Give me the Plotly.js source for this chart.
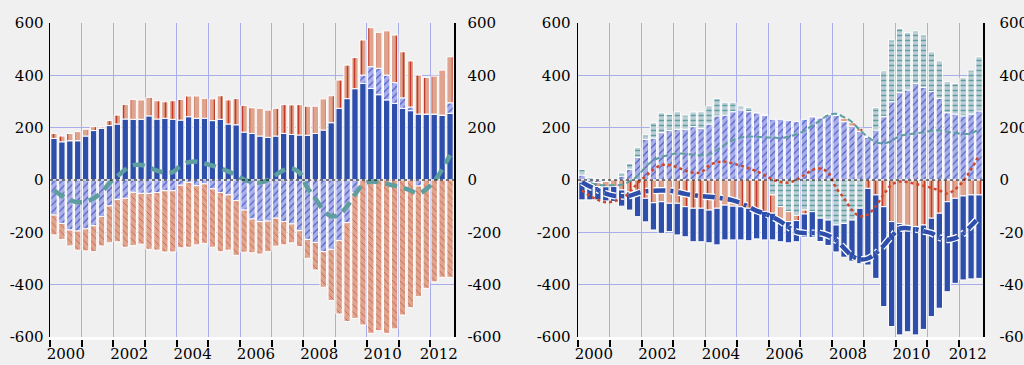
<!DOCTYPE html>
<html>
<head>
<meta charset="utf-8">
<script src="https://cdn.plot.ly/plotly-3.0.1.min.js"></script>
<style>html,body{margin:0;padding:0;background:#f0f0f0;}#chart{width:1024px;height:365px;}</style>
</head>
<body>
<div id="chart"></div>
<script>
// ---------- categories (quarters 2000Q1 .. 2012Q3) ----------
const quarters = [
 '2000Q1','2000Q2','2000Q3','2000Q4','2001Q1','2001Q2','2001Q3','2001Q4',
 '2002Q1','2002Q2','2002Q3','2002Q4','2003Q1','2003Q2','2003Q3','2003Q4',
 '2004Q1','2004Q2','2004Q3','2004Q4','2005Q1','2005Q2','2005Q3','2005Q4',
 '2006Q1','2006Q2','2006Q3','2006Q4','2007Q1','2007Q2','2007Q3','2007Q4',
 '2008Q1','2008Q2','2008Q3','2008Q4','2009Q1','2009Q2','2009Q3','2009Q4',
 '2010Q1','2010Q2','2010Q3','2010Q4','2011Q1','2011Q2','2011Q3','2011Q4',
 '2012Q1','2012Q2','2012Q3'];

// ---------- left panel ----------
const leftBlue = [159,146,150,150,168,189,197,208,214,233, 232,232,245,233,236,232,229,242,236,236,
 227,232,214,211,183,178,168,163,168,178, 174,172,171,178,191,219,274,311,349,369,
 350,326,306,293,274,265,252,252,252,248,255];
const leftPurple = [-134,-166,-191,-195,-187,-175,-140,-99,-74,-70, -47,-51,-51,-48,-41,-41,-20,-9,-22,-15,
 -34,-48,-57,-79,-115,-149,-159,-157,-146,-159, -168,-194,-227,-239,-274,-265,-232,-163,-48,32,
 83,101,95,79,40,14,-23,0,0,0,40];
const leftSalmonPos = [19,22,28,35,26,15,5,19,34,56, 76,74,71,70,63,71,79,79,85,76,
 83,90,92,100,102,98,106,104,106,110, 113,116,111,104,119,103,108,128,119,134,
 149,137,169,182,176,176,149,140,145,172,176];
const leftSalmonNeg = [-76,-61,-61,-73,-84,-99,-112,-141,-162,-187, -204,-194,-214,-220,-234,-234,-239,-248,-226,-227,
 -223,-226,-211,-209,-161,-129,-124,-117,-107,-89, -72,-61,-72,-105,-136,-196,-280,-378,-481,-554,
 -586,-576,-586,-569,-516,-488,-423,-414,-389,-372,-372];
const netTotal = [-40,-60,-76,-85,-82,-70,-48,-12,14,40, 57,57,48,36,28,30,55,68,70,63,
 55,45,33,18,2,-8,-10,0,19,38, 44,28,-30,-70,-115,-138,-132,-100,-55,-18,
 -6,-8,-15,-22,-30,-40,-52,-35,-5,40,95];

// ---------- right panel ----------
const rightPurple = [19,-12,-10,-6,0,15,41,87,155,160, 181,189,194,194,204,197,214,245,248,261,
 268,261,257,248,232,232,227,223,232,242, 238,251,248,223,206,185,164,191,242,299,
 334,344,369,354,338,312,257,252,245,252,264];
const rightTeal = [22,10,4,0,0,13,23,38,17,59, 76,62,67,54,56,64,69,67,49,36,
 15,17,0,0,-57,-102,-121,-135,-115,-121, -146,-153,-172,-166,-153,-108,0,86,175,236,
 246,220,201,200,152,143,119,117,146,168,207];
const rightSalmon = [-8,-10,-15,-20,-25,-38,-45,-51,-70,-87, -83,-89,-89,-102,-108,-108,-115,-108,-96,-100,
 -102,-108,-118,-120,-70,-57,-38,-20,-15,0, 0,0,0,13,13,13,-32,-57,-102,-159,
 -166,-178,-178,-172,-146,-127,-83,-70,-61,-57,-57];
const rightBlue = [-68,-54,-51,-54,-57,-62,-70,-89,-90,-104, -121,-108,-121,-115,-128,-128,-125,-140,-133,-129,
 -127,-124,-107,-109,-102,-77,-81,-81,-90,-99, -89,-97,-103,-129,-157,-212,-293,-319,-382,-401,
 -426,-402,-414,-399,-376,-363,-344,-325,-321,-321,-319];
const tealLine = [-6,-12,-18,-20,-20,-18,-5,15,50,75, 88,96,101,100,96,95,98,115,135,152,
 162,166,165,163,162,160,165,175,188,208, 228,248,253,240,222,190,165,145,140,150,
 168,174,178,182,188,190,184,180,176,178,195];
const blueLine = [-8,-25,-38,-52,-60,-62,-60,-50,-43,-41, -40,-41,-46,-53,-58,-62,-64,-67,-72,-78,
 -88,-103,-118,-128,-142,-158,-180,-198,-203,-203, -203,-212,-230,-260,-290,-303,-300,-280,-250,-215,
 -186,-184,-188,-196,-203,-220,-228,-222,-205,-175,-142];

// ---------- tick labels ----------
const yearLabels = ['2000','2002','2004','2006','2008','2010','2012'];
const yTickVals = [-600,-400,-200,0,200,400,600];
const yTickText = ['-600','-400','-200','0','200','400','600'];

// ---------- helpers ----------
const X_MIN = 2000, X_MAX = 2012.75;
const xq = quarters.map(q => +q.slice(0,4) + (+q.slice(5) - 0.5) / 4);
const labelPos = yearLabels.map(y => Math.min(+y + 0.5, X_MAX - 0.48));

const BLUE = '#2d4fab', PURPLE_BG = '#a9afe8', PURPLE_FG = '#4f5ec6',
      SALMON_BG = '#dfa48e', RED = '#c43a28', TEAL_BG = '#bccfd6', TEAL = '#5f9ea0',
      GRID = '#a9ade9';
const outline = {color: 'white', width: 1};

function bar(y, xa, ya, color, pattern) {
  const m = {color: color, line: outline};
  if (pattern) m.pattern = pattern;
  return {type: 'bar', x: xq, y: y, xaxis: xa, yaxis: ya, marker: m, hoverinfo: 'skip'};
}
const purplePat = {shape: '/', fgcolor: PURPLE_FG, bgcolor: PURPLE_BG, size: 5, solidity: 0.22};
const salmonBar = {shape: '|', fgcolor: RED, bgcolor: SALMON_BG, size: 7, solidity: 0.22};
const salmonHatch = {shape: '\\', fgcolor: '#c9543e', bgcolor: SALMON_BG, size: 5, solidity: 0.15};
const tealPat = {shape: '-', fgcolor: TEAL, bgcolor: TEAL_BG, size: 5, solidity: 0.3};
const blueDash = '12px,5px,3px,5px';

const traces = [
  bar(leftBlue, 'x', 'y', BLUE),
  bar(leftPurple, 'x', 'y', PURPLE_BG, purplePat),
  bar(leftSalmonPos, 'x', 'y', SALMON_BG, salmonBar),
  bar(leftSalmonNeg, 'x', 'y', SALMON_BG, salmonHatch),
  {type: 'scatter', mode: 'lines', x: xq, y: netTotal, xaxis: 'x', yaxis: 'y',
   line: {color: TEAL, width: 4.5, dash: '12px,7px', shape: 'spline'}, hoverinfo: 'skip'},

  bar(rightPurple, 'x2', 'y2', PURPLE_BG, purplePat),
  bar(rightTeal, 'x2', 'y2', TEAL_BG, tealPat),
  bar(rightSalmon, 'x2', 'y2', SALMON_BG, salmonBar),
  bar(rightBlue, 'x2', 'y2', BLUE),
  {type: 'scatter', mode: 'lines', x: xq, y: tealLine, xaxis: 'x2', yaxis: 'y2',
   line: {color: TEAL, width: 2, dash: '6px,3px', shape: 'spline'}, hoverinfo: 'skip'},
  {type: 'scatter', mode: 'lines', x: xq, y: netTotal, xaxis: 'x2', yaxis: 'y2',
   line: {color: '#d0462a', width: 2.5, dash: 'dot', shape: 'spline'}, hoverinfo: 'skip'},
  {type: 'scatter', mode: 'lines', x: xq, y: blueLine, xaxis: 'x2', yaxis: 'y2',
   line: {color: 'white', width: 7, dash: blueDash, shape: 'spline'}, hoverinfo: 'skip'},
  {type: 'scatter', mode: 'lines', x: xq, y: blueLine, xaxis: 'x2', yaxis: 'y2',
   line: {color: BLUE, width: 4.5, dash: blueDash, shape: 'spline'}, hoverinfo: 'skip'},

  // empty traces to anchor the right-hand label axes
  {type: 'scatter', x: [], y: [], xaxis: 'x', yaxis: 'y3', hoverinfo: 'skip'},
  {type: 'scatter', x: [], y: [], xaxis: 'x2', yaxis: 'y4', hoverinfo: 'skip'}
];

const tickFont = {family: 'DejaVu Serif', size: 15, color: 'black'};

function xAxis(domain, anchor) {
  return {
    domain: domain, anchor: anchor, range: [X_MIN, X_MAX],
    tickmode: 'array', tickvals: labelPos, ticktext: yearLabels, ticks: '',
    showgrid: false, zeroline: false, showline: true, linecolor: 'white', linewidth: 3,
    tickfont: tickFont, fixedrange: true, ticklabelstandoff: 1,
    minor: {tickmode: 'linear', tick0: 2000, dtick: 1, ticks: 'outside', ticklen: 7,
            tickwidth: 2, tickcolor: 'black', showgrid: true, gridcolor: GRID, gridwidth: 1}
  };
}
function yAxis(anchor, standoff) {
  return {
    anchor: anchor, domain: [0, 1], range: [-600, 600],
    tickmode: 'array', tickvals: yTickVals, ticktext: yTickText, ticks: '',
    showgrid: true, gridcolor: GRID, gridwidth: 1, zeroline: false,
    showline: true, linecolor: 'black', linewidth: 1.5,
    tickfont: tickFont, ticklabelstandoff: standoff, fixedrange: true
  };
}
function yRight(anchor, over, standoff) {
  const a = yAxis(anchor, standoff);
  a.overlaying = over; a.side = 'right'; a.showgrid = false;
  return a;
}

const zeroLine = (xr, yr) => ({type: 'line', xref: xr + ' domain', yref: yr, x0: 0, x1: 1, y0: 0, y1: 0,
  line: {color: 'black', width: 1, dash: 'dot'}, layer: 'above'});

const layout = {
  width: 1024, height: 365,
  margin: {l: 0, r: 0, t: 23, b: 28},
  paper_bgcolor: '#f0f0f0', plot_bgcolor: '#f0f0f0',
  barmode: 'relative', bargap: 0.2,
  showlegend: false,
  font: {family: 'DejaVu Serif'},
  xaxis: xAxis([50/1024, 454/1024], 'y'),
  yaxis: yAxis('x', 2),
  yaxis3: yRight('x', 'y', 9),
  xaxis2: xAxis([578/1024, 983/1024], 'y2'),
  yaxis2: yAxis('x2', 3),
  yaxis4: yRight('x2', 'y2', 12),
  shapes: [zeroLine('x', 'y'), zeroLine('x2', 'y2')]
};

Plotly.newPlot('chart', traces, layout, {displayModeBar: false, staticPlot: true});
</script>
</body>
</html>
